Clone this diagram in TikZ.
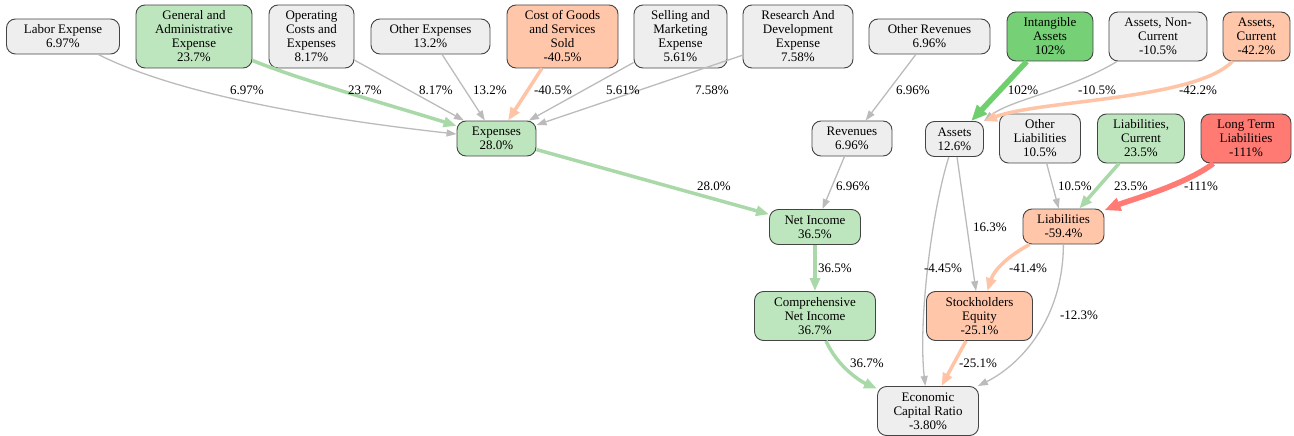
\documentclass[tikz,border=0pt]{standalone}
\usepackage{fontspec}
\setmainfont{Liberation Serif}
\usepackage{xcolor}
\usepackage{tikz}
\usetikzlibrary{arrows.meta}

\definecolor{boxline}{HTML}{444444}
\definecolor{boxgray}{HTML}{EEEEEE}
\definecolor{boxgreen}{HTML}{BEE6BE}
\definecolor{boxdkgreen}{HTML}{76D076}
\definecolor{boxsalmon}{HTML}{FFC6AA}
\definecolor{boxred}{HTML}{FF7A73}
\definecolor{edgegray}{HTML}{BBBBBB}
\definecolor{edgegreen}{HTML}{A9D9A9}
\definecolor{edgedkgreen}{HTML}{6FCF6F}
\definecolor{edgesalmon}{HTML}{FFC4A6}
\definecolor{edgered}{HTML}{FF7B73}

\begin{document}
\begin{tikzpicture}[x=1pt,y=-1pt,font=\fontsize{13}{14}\selectfont,
      acct style/.style={rectangle,rounded corners=9pt,draw=boxline,line width=0.9pt,
        align=center,inner xsep=4pt,inner ysep=1pt},
      two/.style={minimum height=35pt},
      three/.style={minimum height=49pt},
      four/.style={minimum height=63pt},
      gray acct/.style={acct style,fill=boxgray},
      green acct/.style={acct style,fill=boxgreen},
      dkgreen acct/.style={acct style,fill=boxdkgreen},
      salmon acct/.style={acct style,fill=boxsalmon},
      red acct/.style={acct style,fill=boxred},
      gray flow/.style={draw=edgegray,line width=1.3pt,-{Triangle[length=10pt,width=7pt]}},
      green flow/.style={draw=edgegreen,line width=3.5pt,-{Triangle[length=13pt,width=10pt]}},
      salmon flow/.style={draw=edgesalmon,line width=3.5pt,-{Triangle[length=13pt,width=10pt]}},
      dkgreen flow/.style={draw=edgedkgreen,line width=5.5pt,-{Triangle[length=16pt,width=13pt]}},
      red flow/.style={draw=edgered,line width=5.5pt,-{Triangle[length=16pt,width=13pt]}},
      pct/.style={inner sep=0pt}
      ]
      \useasboundingbox (0,0) rectangle (1294,436);

      % top row
      \node[gray acct, two, minimum width=113pt] (labor) at (63,36.5) {Labor Expense\\6.97\%};
      \node[green acct, four, minimum width=116pt] (genadm) at (194,36.5) {General and\\Administrative\\Expense\\23.7\%};
      \node[gray acct, four, minimum width=85pt] (opcost) at (311.5,36.5) {Operating\\Costs and\\Expenses\\8.17\%};
      \node[gray acct, two, minimum width=119pt] (othexp) at (430.5,36.5) {Other Expenses\\13.2\%};
      \node[salmon acct, four, minimum width=111pt] (cogs) at (562.5,36.5) {Cost of Goods\\and Services\\Sold\\-40.5\%};
      \node[gray acct, four, minimum width=93pt] (selmkt) at (680.5,36.5) {Selling and\\Marketing\\Expense\\5.61\%};
      \node[gray acct, four, minimum width=110pt] (rnd) at (798,36.5) {Research And\\Development\\Expense\\7.58\%};
      \node[gray acct, two, minimum width=121pt] (othrev) at (929.5,36.5) {Other Revenues\\6.96\%};
      \node[dkgreen acct, three, minimum width=86pt] (intang) at (1050,36.5) {Intangible\\Assets\\102\%};
      \node[gray acct, three, minimum width=98pt] (noncur) at (1158,36.5) {Assets, Non-\\Current\\-10.5\%};
      \node[salmon acct, three, minimum width=67pt] (curass) at (1256.5,36.5) {Assets,\\Current\\-42.2\%};

      % second row
      \node[green acct, two, minimum width=79pt] (exp) at (496.5,138.5) {Expenses\\28.0\%};
      \node[gray acct, two, minimum width=80pt] (rev) at (852,138.5) {Revenues\\6.96\%};
      \node[gray acct, two, minimum width=58pt] (assets) at (954.5,139) {Assets\\12.6\%};
      \node[gray acct, three, minimum width=81pt] (othliab) at (1040,138.5) {Other\\Liabilities\\10.5\%};
      \node[green acct, three, minimum width=87pt] (curliab) at (1141,138.5) {Liabilities,\\Current\\23.5\%};
      \node[red acct, three, minimum width=90pt] (ltliab) at (1246,138.5) {Long Term\\Liabilities\\-111\%};

      % lower rows
      \node[green acct, two, minimum width=91pt] (netinc) at (815,227) {Net Income\\36.5\%};
      \node[salmon acct, two, minimum width=81pt] (liab) at (1063.5,226.5) {Liabilities\\-59.4\%};
      \node[green acct, three, minimum width=121pt] (compinc) at (815,316) {Comprehensive\\Net Income\\36.7\%};
      \node[salmon acct, three, minimum width=106pt] (equity) at (979.5,316) {Stockholders\\Equity\\-25.1\%};
      \node[gray acct, three, minimum width=101pt] (ecr) at (928,411) {Economic\\Capital Ratio\\-3.80\%};

      % into expenses
      \draw[gray flow] (labor) .. controls (180,96) and (330,120) .. (exp);
      \draw[green flow] (genadm) .. controls (300,80) and (400,108) .. (exp);
      \draw[gray flow] (opcost) -- (exp);
      \draw[gray flow] (othexp) -- (exp);
      \draw[salmon flow] (cogs) -- (exp);
      \draw[gray flow] (selmkt) -- (exp);
      \draw[gray flow] (rnd) -- (exp);
      \node[pct] (p-labor) at (247,90) {6.97\%};
      \node[pct] (p-genadm) at (365,90) {23.7\%};
      \node[pct] (p-opcost) at (436,90) {8.17\%};
      \node[pct] (p-othexp) at (490,90) {13.2\%};
      \node[pct] (p-cogs) at (553,90) {-40.5\%};
      \node[pct] (p-selmkt) at (623,90) {5.61\%};
      \node[pct] (p-rnd) at (712,90) {7.58\%};

      % revenues and assets
      \draw[gray flow] (othrev) -- (rev);
      \draw[dkgreen flow] (intang) -- (assets);
      \draw[gray flow] (noncur) .. controls (1070,90) and (1010,100) .. (assets.north east);
      \draw[salmon flow] (curass) .. controls (1195,100) and (1040,100) .. (assets.north east);
      \node[pct] (p-othrev) at (913,90) {6.96\%};
      \node[pct] (p-intang) at (1023,90) {102\%};
      \node[pct] (p-noncur) at (1097,90) {-10.5\%};
      \node[pct] (p-curass) at (1198,90) {-42.2\%};

      % net income chain
      \draw[green flow] (exp) -- (netinc);
      \draw[gray flow] (rev) -- (netinc);
      \draw[green flow] (netinc) -- (compinc);
      \draw[green flow] (compinc) .. controls (838,368) and (862,382) .. (ecr);
      \node[pct] (p-exp) at (714,186) {28.0\%};
      \node[pct] (p-rev) at (853,186) {6.96\%};
      \node[pct] (p-netinc) at (835,268) {36.5\%};
      \node[pct] (p-compinc) at (867,363) {36.7\%};

      % liabilities
      \draw[gray flow] (othliab) -- (liab);
      \draw[green flow] (curliab) -- (liab);
      \draw[red flow] (ltliab) .. controls (1185,185) and (1130,200) .. (liab);
      \node[pct] (p-othliab) at (1075,186) {10.5\%};
      \node[pct] (p-curliab) at (1131,186) {23.5\%};
      \node[pct] (p-ltliab) at (1201,186) {-111\%};

      % into equity and ratio
      \draw[gray flow] (assets) -- (equity);
      \draw[gray flow] (assets) .. controls (932,210) and (918,320) .. (ecr);
      \draw[salmon flow] (liab) .. controls (1008,256) and (994,270) .. (equity);
      \draw[gray flow] (liab) .. controls (1063,320) and (1020,365) .. (ecr);
      \draw[salmon flow] (equity) -- (ecr);
      \node[pct] (p-assets-eq) at (990,227) {16.3\%};
      \node[pct] (p-assets-ecr) at (943,268) {-4.45\%};
      \node[pct] (p-liab-eq) at (1028,268) {-41.4\%};
      \node[pct] (p-liab-ecr) at (1079,315) {-12.3\%};
      \node[pct] (p-equity) at (978,363) {-25.1\%};

    \end{tikzpicture}
\end{document}
